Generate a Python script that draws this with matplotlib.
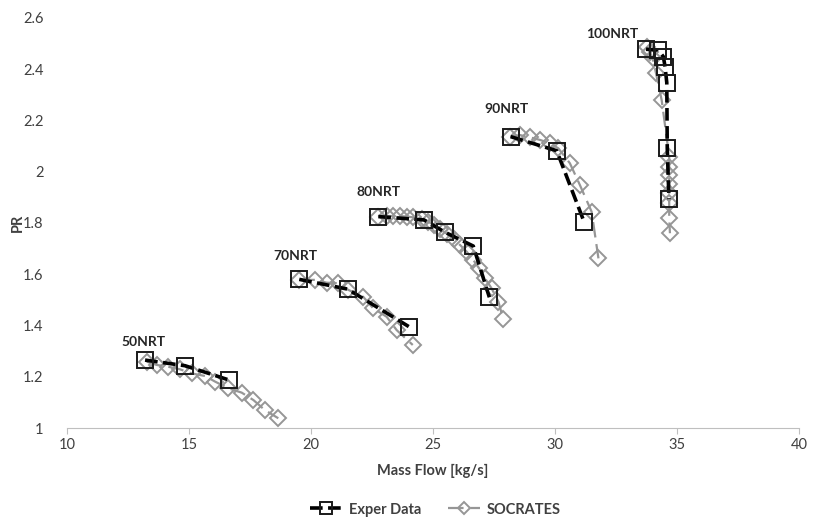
import numpy as np
import matplotlib.pyplot as plt
from matplotlib.lines import Line2D

plt.rcParams['font.family'] = ['Lato', 'DejaVu Sans']

# measured speed lines (squares)
exp_50_x = [13.20, 14.84, 16.65]
exp_50_y = [1.265, 1.243, 1.187]
exp_70_x = [19.52, 21.50, 24.02]
exp_70_y = [1.580, 1.542, 1.395]
exp_80_x = [22.76, 24.63, 25.49, 26.65, 27.31]
exp_80_y = [1.825, 1.812, 1.764, 1.710, 1.510]
exp_90_x = [28.18, 30.07, 31.19]
exp_90_y = [2.137, 2.082, 1.805]
exp_100_x = [33.73, 34.23, 34.44, 34.51, 34.58, 34.60, 34.67]
exp_100_y = [2.478, 2.475, 2.449, 2.410, 2.348, 2.091, 1.893]

# SOCRATES predictions (diamonds)
soc_50_x = [13.27, 13.68, 14.15, 14.63, 15.11, 15.66, 16.07, 16.61, 17.16, 17.64, 18.11, 18.66]
soc_50_y = [1.259, 1.246, 1.239, 1.229, 1.213, 1.203, 1.181, 1.155, 1.138, 1.109, 1.070, 1.038]
soc_70_x = [19.52, 20.16, 20.64, 21.12, 21.53, 22.14, 22.55, 23.10, 23.51, 24.17]
soc_70_y = [1.578, 1.578, 1.567, 1.565, 1.539, 1.512, 1.467, 1.434, 1.382, 1.324]
soc_80_x = [22.76, 23.10, 23.37, 23.65, 23.92, 24.19, 24.54, 24.81, 25.04, 25.29,
            25.59, 25.84, 26.11, 26.38, 26.65, 26.89, 27.13, 27.40, 27.68, 27.88]
soc_80_y = [1.825, 1.827, 1.827, 1.827, 1.825, 1.822, 1.814, 1.805, 1.792, 1.775,
            1.757, 1.736, 1.714, 1.688, 1.656, 1.623, 1.584, 1.545, 1.493, 1.424]
soc_90_x = [28.16, 28.57, 28.98, 29.39, 29.80, 30.14, 30.61, 31.02, 31.50, 31.78]
soc_90_y = [2.137, 2.143, 2.134, 2.124, 2.111, 2.091, 2.033, 1.948, 1.844, 1.662]
soc_100_x = [33.78, 33.89, 34.00, 34.14, 34.37, 34.68, 34.68, 34.68, 34.68, 34.68,
             34.68, 34.68, 34.71]
soc_100_y = [2.485, 2.467, 2.443, 2.384, 2.280, 2.059, 2.020, 1.987, 1.952, 1.916,
             1.879, 1.818, 1.760]

labels = ['50NRT', '70NRT', '80NRT', '90NRT', '100NRT']
label_x = [12.25, 18.45, 21.87, 27.09, 31.27]
label_y = [1.32, 1.655, 1.905, 2.229, 2.52]

exp_sets = [(exp_50_x, exp_50_y), (exp_70_x, exp_70_y), (exp_80_x, exp_80_y),
            (exp_90_x, exp_90_y), (exp_100_x, exp_100_y)]
soc_sets = [(soc_50_x, soc_50_y), (soc_70_x, soc_70_y), (soc_80_x, soc_80_y),
            (soc_90_x, soc_90_y), (soc_100_x, soc_100_y)]

fig = plt.figure(figsize=(8.14, 5.21), dpi=100)
ax = fig.add_axes([0.0823, 0.1785, 0.8993, 0.787])

grey = '#969696'
soc_style = dict(color=grey, linestyle=(0, (7, 3)), linewidth=1.6,
                 marker='D', markerfacecolor='none', markeredgecolor=grey,
                 markeredgewidth=1.4)
exp_style = dict(color='black', linestyle=(0, (3.5, 1.5)), linewidth=2.6,
                 marker='s', markerfacecolor='none', markeredgecolor='#1a1a1a',
                 markeredgewidth=1.4)

for sx, sy in soc_sets:
    ax.plot(sx, sy, markersize=8, zorder=2, **soc_style)
for ex, ey in exp_sets:
    ax.plot(ex, ey, markersize=12, zorder=3, **exp_style)

for t, lx, ly in zip(labels, label_x, label_y):
    ax.text(lx, ly, t, fontsize=10, fontweight='bold', color='#262626')

ax.set_xlim(10, 40)
ax.set_ylim(1, 2.6)
ax.set_xticks(np.arange(10, 41, 5))
ax.set_yticks(np.arange(1.0, 2.61, 0.2))
ax.set_yticklabels(['1', '1.2', '1.4', '1.6', '1.8', '2', '2.2', '2.4', '2.6'])

for s in ['top', 'right', 'left']:
    ax.spines[s].set_visible(False)
ax.spines['bottom'].set_color('#bfbfbf')
ax.tick_params(axis='x', colors='#bfbfbf', length=4, direction='out',
               labelcolor='#404040', labelsize=10.5)
ax.tick_params(axis='y', length=0, labelcolor='#404040', labelsize=10.5, pad=17)

ax.set_xlabel('Mass Flow [kg/s]', fontsize=10.5, fontweight='bold', color='#404040', labelpad=8)
ax.set_ylabel('PR', fontsize=10.5, fontweight='bold', color='#404040')
ax.yaxis.set_label_coords(-0.058, 0.5)

# legend with smaller markers
handles = [Line2D([], [], markersize=8, **exp_style),
           Line2D([], [], markersize=6, **soc_style)]
leg = fig.legend(handles, ['Exper Data', 'SOCRATES'], loc='center',
                 bbox_to_anchor=(0.535, 0.022), ncol=2, frameon=False,
                 handlelength=2.2, handletextpad=0.5, columnspacing=1.8,
                 prop={'weight': 'bold', 'size': 10.5})
for txt in leg.get_texts():
    txt.set_color('#404040')

fig.savefig('out.png', dpi=100)
